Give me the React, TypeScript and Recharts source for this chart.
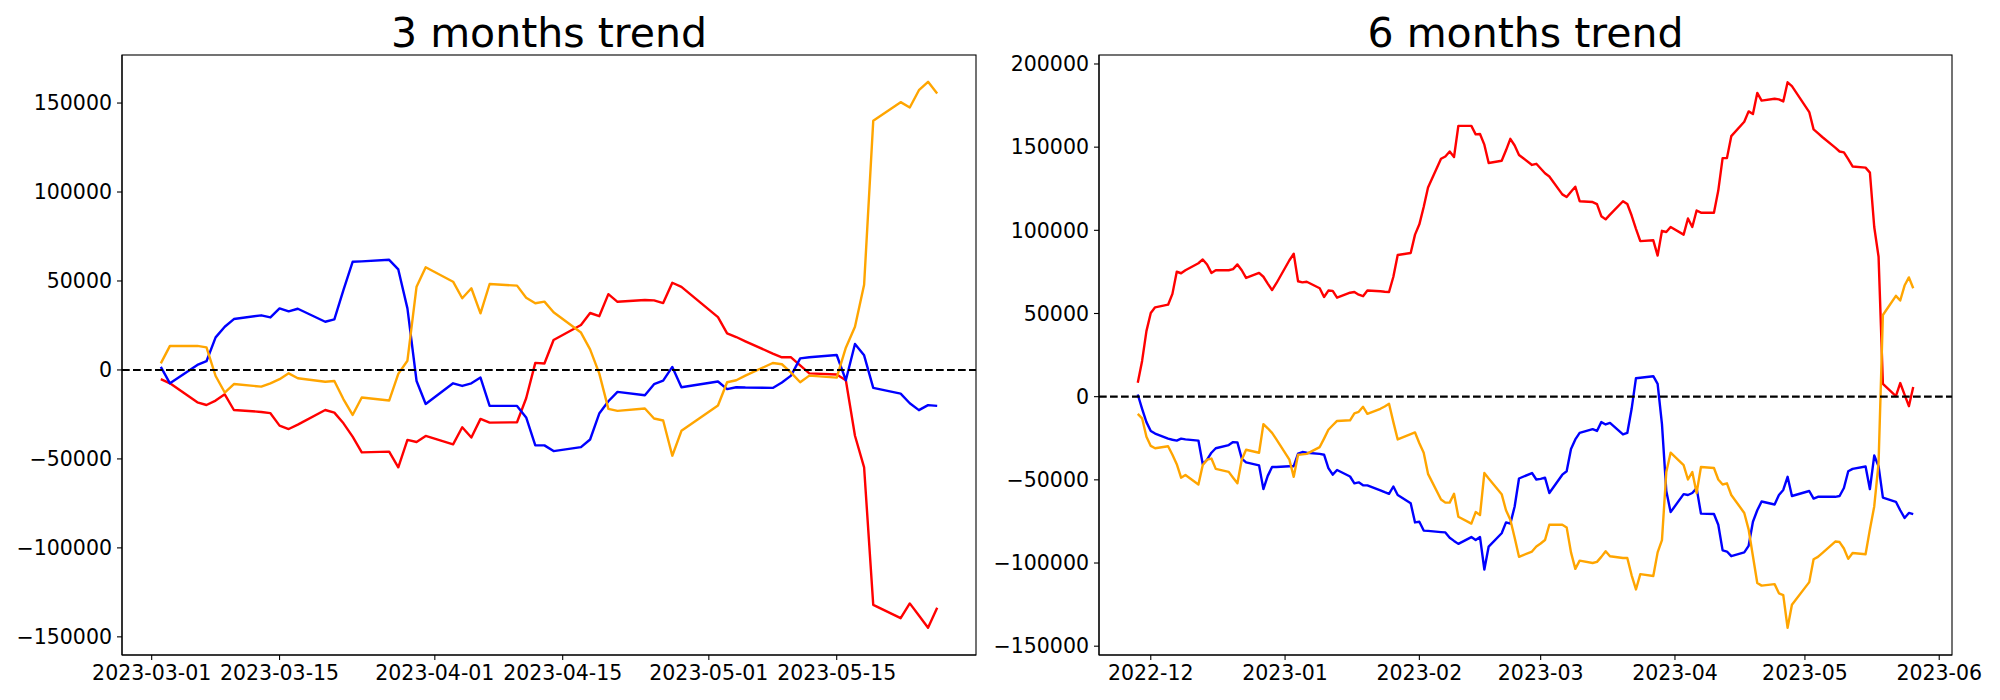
import React from 'react';
import { LineChart, Line, XAxis, YAxis, ReferenceLine } from 'recharts';

// ---------- 3 months trend ----------
const dates3 = [
  '2023-03-02', '2023-03-03',
  '2023-03-06', '2023-03-07', '2023-03-08', '2023-03-09', '2023-03-10',
  '2023-03-13', '2023-03-14', '2023-03-15', '2023-03-16', '2023-03-17',
  '2023-03-20', '2023-03-21', '2023-03-22', '2023-03-23', '2023-03-24',
  '2023-03-27', '2023-03-28', '2023-03-29', '2023-03-30', '2023-03-31',
  '2023-04-03', '2023-04-04', '2023-04-05', '2023-04-06', '2023-04-07',
  '2023-04-10', '2023-04-11', '2023-04-12', '2023-04-13', '2023-04-14',
  '2023-04-17', '2023-04-18', '2023-04-19', '2023-04-20', '2023-04-21',
  '2023-04-24', '2023-04-25', '2023-04-26', '2023-04-27', '2023-04-28',
  '2023-05-02', '2023-05-03', '2023-05-04', '2023-05-05',
  '2023-05-08', '2023-05-09', '2023-05-10', '2023-05-11', '2023-05-12',
  '2023-05-15', '2023-05-16', '2023-05-17', '2023-05-18', '2023-05-19',
  '2023-05-22', '2023-05-23', '2023-05-24', '2023-05-25', '2023-05-26',
];
const red3 = [
  -5200, -7500,
  -18200, -19700, -17200, -13700, -22500,
  -23600, -24300, -31300, -33200, -30700,
  -22500, -24000, -30000, -37500, -46300,
  -45900, -54700, -39300, -40500, -37100,
  -41800, -32200, -38000, -27500, -29600,
  -29400, -15900, 4000, 3600, 16800,
  25300, 32000, 30200, 42600, 38300,
  39300, 39100, 37600, 49000, 46700,
  29700, 20600, 18500, 16100,
  9200, 7100, 7100, 2600, -1900,
  -2600, -5800, -37000, -54800, -132000,
  -139500, -131200, -138000, -144900, -133700,
];
const blue3 = [
  1700, -7500,
  2800, 4900, 18300, 24300, 28600,
  30700, 29500, 34600, 32900, 34400,
  27100, 28400, 45000, 60800, 61000,
  61900, 56500, 34600, -6200, -19100,
  -7500, -9000, -7500, -4300, -20200,
  -20200, -26700, -42400, -42400, -45600,
  -43400, -39100, -24500, -17600, -12300,
  -14200, -8000, -6000, 1700, -9700,
  -6500, -10800, -9700, -9900,
  -10100, -7100, -3200, 6500, 7100,
  8400, -5800, 14600, 8200, -10100,
  -13300, -18700, -22600, -19800, -20200,
];
const orange3 = [
  3700, 13500,
  13500, 12700, -3400, -12700, -7900,
  -9400, -7500, -5200, -1900, -4700,
  -6600, -6200, -16500, -25300, -15500,
  -17200, -2200, 5200, 46800, 57700,
  49600, 40300, 45900, 31800, 48300,
  47400, 40600, 37500, 38400, 32400,
  21000, 11600, -1900, -21900, -23000,
  -21700, -27300, -28400, -48200, -34200,
  -20000, -6900, -5800, -3200,
  3900, 3200, -1500, -6900, -3200,
  -4300, 12500, 24300, 47900, 140000,
  150500, 147500, 157200, 161900, 155400,
];
const xTicks3 = ['2023-03-01', '2023-03-15', '2023-04-01', '2023-04-15', '2023-05-01', '2023-05-15'];
const yTicks3 = [-150000, -100000, -50000, 0, 50000, 100000, 150000];

// ---------- 6 months trend ----------
const dates6 = [
  '2022-11-28', '2022-11-29', '2022-11-30', '2022-12-01', '2022-12-02',
  '2022-12-05', '2022-12-06', '2022-12-07', '2022-12-08', '2022-12-09',
  '2022-12-12', '2022-12-13', '2022-12-14', '2022-12-15', '2022-12-16',
  '2022-12-19', '2022-12-20', '2022-12-21', '2022-12-22', '2022-12-23',
  '2022-12-26', '2022-12-27', '2022-12-28', '2022-12-29', '2022-12-30',
  '2023-01-02', '2023-01-03', '2023-01-04', '2023-01-05', '2023-01-06',
  '2023-01-09', '2023-01-10', '2023-01-11', '2023-01-12', '2023-01-13',
  '2023-01-16', '2023-01-17', '2023-01-18', '2023-01-19', '2023-01-20',
  '2023-01-23', '2023-01-24', '2023-01-25', '2023-01-26', '2023-01-27',
  '2023-01-30', '2023-01-31', '2023-02-01', '2023-02-02', '2023-02-03',
  '2023-02-06', '2023-02-07', '2023-02-08', '2023-02-09', '2023-02-10',
  '2023-02-13', '2023-02-14', '2023-02-15', '2023-02-16', '2023-02-17',
  '2023-02-20', '2023-02-21', '2023-02-22', '2023-02-23', '2023-02-24',
  '2023-02-27', '2023-02-28', '2023-03-01', '2023-03-02', '2023-03-03',
  '2023-03-06', '2023-03-07', '2023-03-08', '2023-03-09', '2023-03-10',
  '2023-03-13', '2023-03-14', '2023-03-15', '2023-03-16', '2023-03-17',
  '2023-03-20', '2023-03-21', '2023-03-22', '2023-03-23', '2023-03-24',
  '2023-03-27', '2023-03-28', '2023-03-29', '2023-03-30', '2023-03-31',
  '2023-04-03', '2023-04-04', '2023-04-05', '2023-04-06', '2023-04-07',
  '2023-04-10', '2023-04-11', '2023-04-12', '2023-04-13', '2023-04-14',
  '2023-04-17', '2023-04-18', '2023-04-19', '2023-04-20', '2023-04-21',
  '2023-04-24', '2023-04-25', '2023-04-26', '2023-04-27', '2023-04-28',
  '2023-05-02', '2023-05-03', '2023-05-04', '2023-05-05',
  '2023-05-08', '2023-05-09', '2023-05-10', '2023-05-11', '2023-05-12',
  '2023-05-15', '2023-05-16', '2023-05-17', '2023-05-18', '2023-05-19',
  '2023-05-22', '2023-05-23', '2023-05-24', '2023-05-25', '2023-05-26',
];
const red6 = [
  8400, 21500, 39400, 50300, 53700,
  55300, 61800, 75100, 74200, 76000,
  80200, 82500, 79500, 74400, 76000,
  76000, 76700, 79500, 76000, 71400,
  74400, 72100, 68000, 64100, 68200,
  82000, 85900, 69400, 68700, 69100,
  65200, 59900, 63800, 63600, 59500,
  62500, 62900, 61300, 60400, 63800,
  63400, 63100, 62900, 72100, 85200,
  86400, 97400, 103600, 114000, 125700,
  143000, 144400, 147400, 144100, 162800,
  162800, 157700, 157900, 151500, 140500,
  141800, 148100, 155000, 151000, 145300,
  139300, 140000, 137200, 134300, 132400,
  121600, 120000, 123200, 126200, 117500,
  117000, 115800, 108500, 106600, 109400,
  117500, 115800, 108900, 100900, 93500,
  94000, 84800, 99700, 99000, 102000,
  97400, 107100, 102000, 111900, 110600,
  110600, 123900, 143400, 143400, 156600,
  165300, 171500, 169900, 182600, 178000,
  179100, 178700, 177500, 189000, 186700,
  171100, 160700, 158400, 156100,
  149700, 147400, 146900, 142800, 138400,
  137700, 134700, 102000, 84100, 7700,
  300, 8200, 1200, -5700, 5800,
];
const blue6 = [
  1300, -7300, -15300, -20600, -22200,
  -25200, -25900, -26400, -25200, -25700,
  -26400, -40600, -37900, -33700, -31000,
  -29100, -27300, -27500, -37200, -39500,
  -41300, -55600, -47600, -42300, -42300,
  -41800, -41800, -34200, -33300, -33700,
  -34400, -34900, -42900, -46900, -44100,
  -48000, -52100, -51500, -53300, -53300,
  -56300, -57400, -58400, -54000, -59100,
  -64100, -75600, -75200, -80500, -80700,
  -81400, -81600, -84800, -86700, -88500,
  -84400, -86200, -84400, -103900, -90100,
  -82100, -75600, -76300, -66000, -49200,
  -45900, -49800, -49400, -48700, -57900,
  -46900, -44800, -31400, -25700, -21800,
  -19500, -20600, -15300, -16700, -15800,
  -22700, -21800, -7300, 11100, 11400,
  12300, 7700, -16500, -56700, -69400,
  -58600, -59100, -57900, -55000, -70300,
  -70500, -77000, -92400, -93100, -95900,
  -93600, -89700, -75200, -68300, -63000,
  -64800, -59100, -56100, -48200, -59700,
  -56700, -61300, -60200, -60200,
  -60200, -59700, -54900, -44800, -43400,
  -42000, -55600, -35400, -41800, -60700,
  -63200, -68300, -72900, -69900, -70600,
];
const orange6 = [
  -10300, -13000, -24100, -29600, -31000,
  -29800, -34900, -40600, -48700, -47100,
  -52800, -41100, -37900, -37200, -43400,
  -45200, -48700, -52100, -37900, -31900,
  -33700, -16500, -19000, -21800, -25700,
  -37900, -48200, -34900, -34700, -34400,
  -30300, -25200, -19900, -17200, -14600,
  -14200, -10000, -9100, -6100, -10300,
  -7300, -5900, -4300, -15300, -25700,
  -22500, -21500, -28000, -33700, -46400,
  -61800, -63700, -63700, -58400, -72200,
  -76300, -69400, -71200, -45900, -49200,
  -58600, -68300, -74000, -84800, -96300,
  -93100, -90100, -88300, -86200, -77000,
  -77000, -78600, -93600, -103500, -98600,
  -100000, -99300, -96300, -92900, -95900,
  -97000, -97000, -107400, -115900, -106700,
  -107800, -93600, -86200, -45300, -33700,
  -41100, -49800, -45300, -57900, -42300,
  -42900, -49800, -52800, -52100, -59100,
  -69900, -79800, -95900, -112000, -113600,
  -112700, -118200, -119300, -138900, -125100,
  -111500, -97700, -96300, -94000,
  -87100, -87400, -91300, -97500, -94000,
  -94700, -79800, -66000, -40000, 49100,
  60600, 57800, 66800, 71700, 65200,
];
const xTicks6 = ['2022-12-01', '2023-01-01', '2023-02-01', '2023-03-01', '2023-04-01', '2023-05-01', '2023-06-01'];
const yTicks6 = [-150000, -100000, -50000, 0, 50000, 100000, 150000, 200000];

const FONT = '"DejaVu Sans", "Liberation Sans", sans-serif';
const DAY = 86400000;

const toDay = (s: string) => {
  const [y, m, d] = s.split('-').map(Number);
  return Date.UTC(y, m - 1, d) / DAY;
};
const pad = (n: number) => String(n).padStart(2, '0');
const fmtDate = (n: number, monthly: boolean) => {
  const dt = new Date(Math.round(n) * DAY);
  const y = dt.getUTCFullYear();
  const m = pad(dt.getUTCMonth() + 1);
  const d = pad(dt.getUTCDate());
  return monthly ? `${y}-${m}` : `${y}-${m}-${d}`;
};
const fmtVal = (v: number) => (v < 0 ? '\u2212' + Math.abs(v) : String(v));

type PanelProps = {
  title: string;
  dates: string[];
  red: number[];
  blue: number[];
  orange: number[];
  xTicks: string[];
  monthly: boolean;
  yTicks: number[];
  yDomain: [number, number];
  left: number;
  width: number;
  yAxisWidth: number;
  rightMargin: number;
};

const H = 700;
const TOP = 55;
const XAXIS_H = 45;
const LW = 2.4;

function Panel(p: PanelProps) {
  const W = p.width;
  const xs = p.dates.map(toDay);
  const span = xs[xs.length - 1] - xs[0];
  const xDomain: [number, number] = [xs[0] - 0.05 * span, xs[xs.length - 1] + 0.05 * span];
  const data = p.dates.map((d, i) => ({ x: xs[i], red: p.red[i], blue: p.blue[i], orange: p.orange[i] }));
  const ticks = p.xTicks.map(toDay);
  const plotW = W - p.yAxisWidth - p.rightMargin;
  const plotH = H - TOP - XAXIS_H;
  const titleX = p.yAxisWidth + plotW / 2;
  const tickStyle = { fontSize: 20.5, fill: '#000', fontFamily: FONT };
  return (
    <div style={{ position: 'absolute', left: p.left, top: 0, width: W, height: H }}>
      <LineChart
        width={W}
        height={H}
        data={data}
        margin={{ top: TOP, right: p.rightMargin, bottom: 0, left: 0 }}
        style={{ position: 'absolute', left: 0, top: 0 }}
      >
        <XAxis
          dataKey="x"
          type="number"
          domain={xDomain}
          allowDataOverflow
          ticks={ticks}
          interval={0}
          tickFormatter={(v: number) => fmtDate(v, p.monthly)}
          height={XAXIS_H}
          tickSize={5}
          tickMargin={5}
          stroke="#000"
          axisLine={{ stroke: '#000', strokeWidth: 1.1 }}
          tickLine={{ stroke: '#000', strokeWidth: 1.1 }}
          tick={tickStyle}
        />
        <YAxis
          type="number"
          domain={p.yDomain}
          allowDataOverflow
          ticks={p.yTicks}
          interval={0}
          tickFormatter={fmtVal}
          width={p.yAxisWidth}
          tickSize={5}
          tickMargin={5}
          stroke="#000"
          axisLine={{ stroke: '#000', strokeWidth: 1.1 }}
          tickLine={{ stroke: '#000', strokeWidth: 1.1 }}
          tick={tickStyle}
        />
        <Line type="linear" dataKey="red" stroke="#ff0000" strokeWidth={LW} dot={false} activeDot={false} isAnimationActive={false} strokeLinejoin="round" />
        <Line type="linear" dataKey="blue" stroke="#0000ff" strokeWidth={LW} dot={false} activeDot={false} isAnimationActive={false} strokeLinejoin="round" />
        <Line type="linear" dataKey="orange" stroke="#ffa500" strokeWidth={LW} dot={false} activeDot={false} isAnimationActive={false} strokeLinejoin="round" />
        <ReferenceLine y={0} stroke="#000" strokeWidth={2.1} strokeDasharray="7.7 3.3" />
      </LineChart>
      <svg width={W} height={H} style={{ position: 'absolute', left: 0, top: 0, pointerEvents: 'none' }}>
        <text x={titleX} y={47} textAnchor="middle" fontSize={41} fontFamily={FONT} fill="#000">
          {p.title}
        </text>
        <rect x={p.yAxisWidth} y={TOP} width={plotW} height={plotH} fill="none" stroke="#000" strokeWidth={1.1} />
      </svg>
    </div>
  );
}

export default function App() {
  return (
    <div style={{ position: 'absolute', left: 0, top: 0, width: 2000, height: 700, background: '#fff', overflow: 'hidden' }}>
      <Panel
        title="3 months trend"
        dates={dates3}
        red={red3}
        blue={blue3}
        orange={orange3}
        xTicks={xTicks3}
        monthly={false}
        yTicks={yTicks3}
        yDomain={[-160200, 177000]}
        left={0}
        width={990}
        yAxisWidth={122}
        rightMargin={14}
      />
      <Panel
        title="6 months trend"
        dates={dates6}
        red={red6}
        blue={blue6}
        orange={orange6}
        xTicks={xTicks6}
        monthly={true}
        yTicks={yTicks6}
        yDomain={[-155300, 205400]}
        left={990}
        width={1010}
        yAxisWidth={109}
        rightMargin={48}
      />
    </div>
  );
}
